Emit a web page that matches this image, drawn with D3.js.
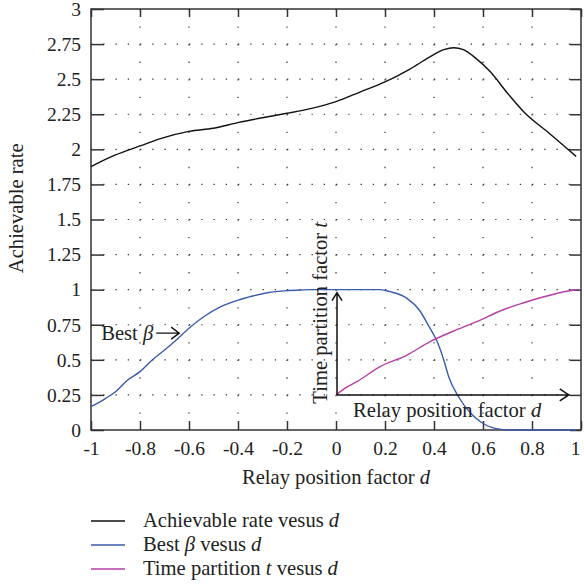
<!DOCTYPE html>
<html>
<head>
<meta charset="utf-8">
<script src="https://cdn.jsdelivr.net/npm/d3@7"></script>
<style>
  body { margin: 0; background: #fff; }
  text { font-family: "Liberation Serif", "Times New Roman", serif; fill: #222; }
</style>
</head>
<body>
<div id="chart"></div>
<script>
// values
const rateD = [-1, -0.96, -0.9, -0.8, -0.72, -0.6, -0.5, -0.4, -0.3, -0.2, -0.1, 0, 0.1, 0.2, 0.3, 0.38, 0.44, 0.48, 0.52, 0.57, 0.63, 0.7, 0.77, 0.87, 0.98]
const rateV = [1.876, 1.912, 1.96, 2.024, 2.075, 2.128, 2.15, 2.19, 2.225, 2.257, 2.292, 2.34, 2.41, 2.48, 2.57, 2.655, 2.71, 2.724, 2.71, 2.65, 2.553, 2.4, 2.26, 2.115, 1.95]

const betaD = [-1, -0.94, -0.9, -0.85, -0.8, -0.75, -0.7, -0.66, -0.6, -0.54, -0.47, -0.4, -0.34, -0.28, -0.2, -0.14, -0.1, 0.18, 0.22, 0.29, 0.34, 0.38, 0.41, 0.44, 0.46, 0.5, 0.55, 0.59, 0.65, 0.72, 0.98]
const betaV = [0.166, 0.226, 0.273, 0.356, 0.416, 0.499, 0.57, 0.629, 0.725, 0.807, 0.879, 0.926, 0.955, 0.978, 0.993, 0.998, 1, 1, 0.986, 0.938, 0.855, 0.736, 0.641, 0.499, 0.38, 0.237, 0.119, 0.059, 0.012, 0, 0]

const timeD = [0, 0.04, 0.085, 0.18, 0.29, 0.384, 0.49, 0.574, 0.68, 0.763, 0.845, 0.955, 0.99]
const timeT = [0, 0.07, 0.126, 0.268, 0.379, 0.506, 0.617, 0.696, 0.807, 0.873, 0.93, 0.99, 1]

const xTicks = [-1, -0.8, -0.6, -0.4, -0.2, 0, 0.2, 0.4, 0.6, 0.8, 1]
const yTicks = [0, 0.25, 0.5, 0.75, 1, 1.25, 1.5, 1.75, 2, 2.25, 2.5, 2.75, 3]

const legendItems = [
    { label: 'Achievable rate vesus ', sym: null, tail: 'd', color: '#111' },
    { label: 'Best ', sym: 'β', tail: ' vesus d', color: '#3a5bab' },
    { label: 'Time partition ', sym: 't', tail: ' vesus d', color: '#b43fa6' }
]

const W = 584, H = 584
const mLeft = 91, mRight = 581, mTop = 9, mBottom = 430

const svg = d3.select('#chart').append('svg')
    .attr('width', W)
    .attr('height', H)

const x = d3.scaleLinear().domain([-1, 1]).range([mLeft, mRight])
const y = d3.scaleLinear().domain([0, 3]).range([mBottom, mTop])
// inset: t in [0,1] drawn between y=0.25 and y=1 of the main axis
const tY = d3.scaleLinear().domain([0, 1]).range([y(0.25), y(1)])

const fs = 19.5   // tick labels
const ls = 20.6   // titles, legend, notes

// dotted grid
svg.append('g').selectAll('line')
    .data(yTicks.filter(d => d > 0 && d < 3))
    .join('line')
    .attr('x1', mLeft).attr('x2', mRight)
    .attr('y1', d => y(d)).attr('y2', d => y(d))
    .attr('stroke', '#333')
    .attr('stroke-width', 1.2)
    .attr('stroke-dasharray', '1.3,10.95')

svg.append('g').selectAll('line')
    .data(xTicks.filter(d => d > -1 && d < 1))
    .join('line')
    .attr('x1', d => x(d)).attr('x2', d => x(d))
    .attr('y1', mTop).attr('y2', mBottom)
    .attr('stroke', '#333')
    .attr('stroke-width', 1.2)
    .attr('stroke-dasharray', '1.3,16.24')

// axes (ticks pointing inward)
svg.append('g')
    .attr('transform', `translate(0,${mBottom})`)
    .call(d3.axisBottom(x).tickValues(xTicks).tickSizeInner(-9).tickSizeOuter(0).tickPadding(11)
        .tickFormat(d => String(d)))
    .call(g => g.select('.domain').remove())
    .call(g => g.selectAll('.tick text').filter(d => d === 1).attr('dx', -6))
svg.append('g')
    .attr('transform', `translate(0,${mTop})`)
    .call(d3.axisTop(x).tickValues(xTicks).tickSizeInner(-8).tickSizeOuter(0).tickFormat(''))
    .call(g => g.select('.domain').remove())
svg.append('g')
    .attr('transform', `translate(${mLeft},0)`)
    .call(d3.axisLeft(y).tickValues(yTicks).tickSizeInner(-13).tickSizeOuter(0).tickPadding(10)
        .tickFormat(d => String(d)))
    .call(g => g.select('.domain').remove())
svg.append('g')
    .attr('transform', `translate(${mRight},0)`)
    .call(d3.axisRight(y).tickValues(yTicks).tickSizeInner(-11).tickSizeOuter(0).tickFormat(''))
    .call(g => g.select('.domain').remove())

svg.selectAll('.tick line').attr('stroke', '#333').attr('stroke-width', 1.5)
svg.selectAll('.tick text')
    .style('font-family', '"Liberation Serif", serif')
    .style('font-size', fs + 'px')
    .attr('fill', '#222')

svg.append('rect')
    .attr('x', mLeft).attr('y', mTop)
    .attr('width', mRight - mLeft).attr('height', mBottom - mTop)
    .attr('fill', 'none')
    .attr('stroke', '#333')
    .attr('stroke-width', 1.5)

// curves
const line = d3.line().x(d => x(d[0])).y(d => y(d[1])).curve(d3.curveMonotoneX)
const tLine = d3.line().x(d => x(d[0])).y(d => tY(d[1])).curve(d3.curveMonotoneX)

svg.append('path')
    .datum(d3.zip(rateD, rateV))
    .attr('d', line)
    .attr('fill', 'none').attr('stroke', '#111').attr('stroke-width', 1.4)
svg.append('path')
    .datum(d3.zip(betaD, betaV))
    .attr('d', line)
    .attr('fill', 'none').attr('stroke', '#3a5bab').attr('stroke-width', 1.4)
svg.append('path')
    .datum(d3.zip(timeD, timeT))
    .attr('d', tLine)
    .attr('fill', 'none').attr('stroke', '#b43fa6').attr('stroke-width', 1.4)

// inset axes with open arrow heads
const ax0 = x(0) + 1, ay0 = tY(0)
const vTip = tY(1) + 3, hTip = x(0.95)
svg.append('path')
    .attr('d', `M${ax0},${ay0}V${vTip}M${ax0 - 5},${vTip + 8}L${ax0},${vTip}L${ax0 + 5},${vTip + 8}` +
        `M${ax0},${ay0}H${hTip}M${hTip - 9},${ay0 - 6}L${hTip},${ay0}L${hTip - 9},${ay0 + 6}`)
    .attr('fill', 'none').attr('stroke', '#111').attr('stroke-width', 1.5)

const inX = svg.append('text')
    .attr('x', ax0 + 16).attr('y', ay0 + 22)
    .style('font-size', ls + 'px')
inX.append('tspan').text('Relay position factor ')
inX.append('tspan').style('font-style', 'italic').text('d')

const inY = svg.append('text')
    .attr('transform', `translate(${ax0 - 10},${tY(0.78)}) rotate(-90)`)
    .attr('text-anchor', 'middle')
    .style('font-size', ls + 'px')
inY.append('tspan').text('Time partition factor ')
inY.append('tspan').style('font-style', 'italic').text('t')

// "Best beta" annotation
const bx = x(-0.64), by = y(0.69)
const best = svg.append('text')
    .attr('x', bx - 26).attr('y', by + 7)
    .attr('text-anchor', 'end')
    .style('font-size', ls + 'px')
best.append('tspan').text('Best ')
best.append('tspan').style('font-style', 'italic').text('β')
svg.append('path')
    .attr('d', `M${bx - 23},${by}H${bx}M${bx - 8},${by - 6}L${bx},${by}L${bx - 8},${by + 6}`)
    .attr('fill', 'none').attr('stroke', '#111').attr('stroke-width', 1.4)

// axis titles
const xt = svg.append('text')
    .attr('x', (mLeft + mRight) / 2).attr('y', 484)
    .attr('text-anchor', 'middle')
    .style('font-size', ls + 'px')
xt.append('tspan').text('Relay position factor ')
xt.append('tspan').style('font-style', 'italic').text('d')

svg.append('text')
    .attr('transform', `translate(23,${y(1.58)}) rotate(-90)`)
    .attr('text-anchor', 'middle')
    .style('font-size', ls + 'px')
    .text('Achievable rate')

// legend
const leg = svg.append('g').selectAll('g')
    .data(legendItems)
    .join('g')
    .attr('transform', (d, i) => `translate(91,${521 + i * 24})`)
leg.append('line')
    .attr('x1', 0).attr('x2', 34)
    .attr('stroke', d => d.color).attr('stroke-width', 1.4)
leg.append('text')
    .attr('x', 52).attr('y', 6)
    .style('font-size', ls + 'px')
    .each(function (d) {
        const t = d3.select(this)
        t.append('tspan').text(d.label)
        if (d.sym) t.append('tspan').style('font-style', 'italic').text(d.sym)
        if (d.tail.startsWith(' vesus')) {
            t.append('tspan').text(' vesus ')
            t.append('tspan').style('font-style', 'italic').text('d')
        } else {
            t.append('tspan').style('font-style', 'italic').text(d.tail)
        }
    })
</script>
</body>
</html>
